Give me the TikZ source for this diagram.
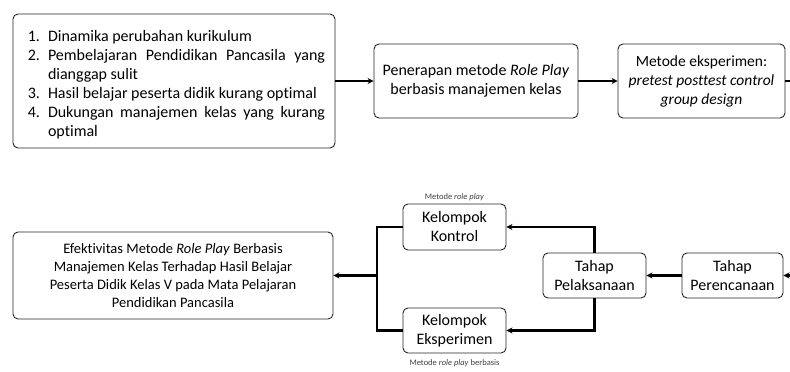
\documentclass[tikz,border=0pt]{standalone}
\usepackage{fontspec}
\setmainfont{Carlito}[Ligatures=NoCommon]
\usepackage{enumitem}
\usetikzlibrary{arrows.meta,positioning}

\tikzset{
  box/.style={draw=black!85, rounded corners=5pt, line width=0.9pt,
    align=center, inner sep=0pt, font=\fontsize{16}{19}\selectfont},
  conn/.style={line width=2.2pt, -{Stealth[length=6pt,width=6pt]}},
  lajur/.style={line width=2.2pt},
  note/.style={font=\fontsize{8.5}{10}\selectfont, text=black!75, inner sep=1pt},
}

\begin{document}
\begin{tikzpicture}[x=1pt,y=-1pt]
\useasboundingbox (0,0) rectangle (790,372);

% baris atas
\node[box, align=justify, text width=302, minimum width=322, minimum height=134] (masalah) at (174,81) {%
\begin{enumerate}[leftmargin=25pt, labelsep=8pt, itemsep=0pt, topsep=0pt, parsep=0pt, partopsep=0pt]
\item Dinamika perubahan kurikulum
\item Pembelajaran Pendidikan Pancasila yang\linebreak dianggap sulit
\item Hasil belajar peserta didik kurang optimal
\item Dukungan manajemen kelas yang kurang\linebreak optimal
\end{enumerate}};
\node[box, minimum width=204, minimum height=74] (penerapan) at (476,81)
  {Penerapan metode \textit{Role Play}\\berbasis manajemen kelas};
\node[box, minimum width=167, minimum height=74, font=\fontsize{15.5}{19}\selectfont] (metode) at (701.5,81)
  {Metode eksperimen:\\\textit{pretest posttest control}\\\textit{group design}};
\coordinate (kanan1) at (790,81);

\draw[conn] (masalah) -- (penerapan);
\draw[conn] (penerapan) -- (metode);
\draw[lajur] (metode) -- (kanan1);

% baris bawah
\node[box, minimum width=101, minimum height=45] (perencanaan) at (732.5,275.5)
  {Tahap\\Perencanaan};
\node[box, minimum width=103, minimum height=45] (pelaksanaan) at (594.5,275.5)
  {Tahap\\Pelaksanaan};
\node[box, minimum width=103, minimum height=46] (kontrol) at (454.5,227)
  {Kelompok\\Kontrol};
\node[box, minimum width=103, minimum height=45] (eksperimen) at (454.5,330.5)
  {Kelompok\\Eksperimen};
\node[box, minimum width=320, minimum height=87, font=\fontsize{14.5}{18}\selectfont] (efektivitas) at (173,275.5)
  {Efektivitas Metode \textit{Role Play} Berbasis\\Manajemen Kelas Terhadap Hasil Belajar\\Peserta Didik Kelas V pada Mata Pelajaran\\Pendidikan Pancasila};
\coordinate (kanan2) at (790,275.5);
\coordinate (gabung) at (377,275.5);

\node[note, above=1.5pt of kontrol] (ketkontrol) {Metode \textit{role play}};
\node[note, below=5pt of eksperimen] (keteksperimen) {Metode \textit{role play} berbasis};

\draw[conn] (kanan2) -- (perencanaan);
\draw[conn] (perencanaan) -- (pelaksanaan);
\draw[conn] (pelaksanaan.north) |- (kontrol.east);
\draw[conn] (pelaksanaan.south) |- (eksperimen.east);
\draw[lajur] (kontrol.west) -| (gabung) |- (eksperimen.west);
\draw[conn] (gabung) -- (efektivitas);
\end{tikzpicture}
\end{document}
